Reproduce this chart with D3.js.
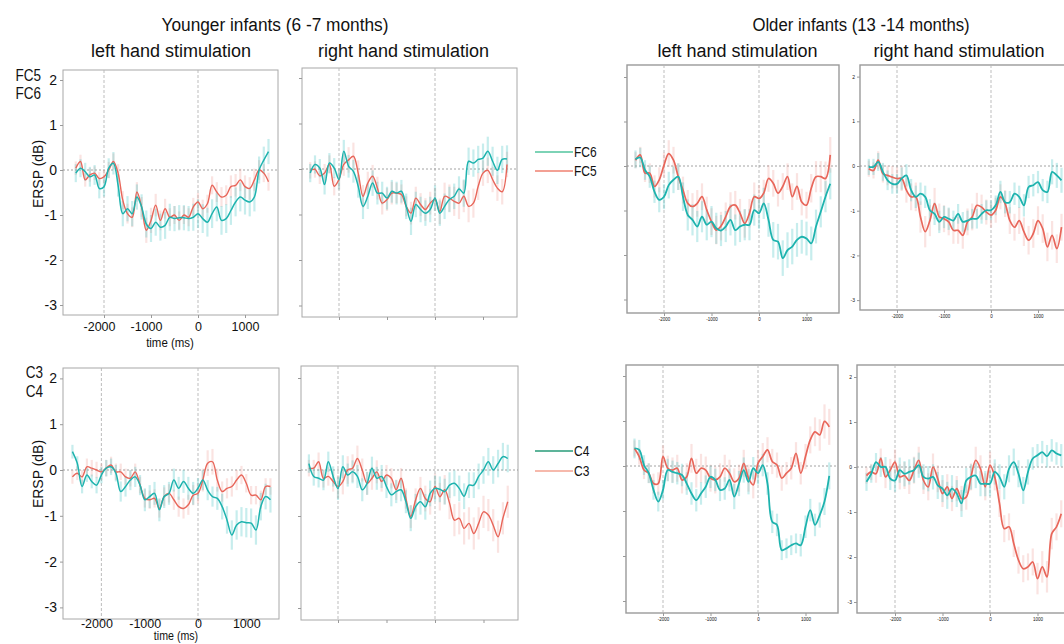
<!DOCTYPE html>
<html><head><meta charset="utf-8">
<script src="https://cdn.jsdelivr.net/npm/d3@7"></script>
<style>
body{margin:0;background:#fff}
svg{display:block}
text{font-family:"Liberation Sans",Arial,Helvetica,sans-serif;fill:#111}
</style></head>
<body><svg id="c" width="1064" height="644"></svg>
<script>
// ---------- DATA ----------
const times = [-2600,-2500,-2400,-2300,-2200,-2100,-2000,-1900,-1800,-1700,
  -1600,-1500,-1400,-1300,-1200,-1100,-1000,-900,-800,-700,
  -600,-500,-400,-300,-200,-100,0,100,200,300,
  400,500,600,700,800,900,1000,1100,1200,1300,
  1400,1500];
const xTicks = [-2000,-1000,0,1000];
const yTicks = [2,1,0,-1,-2,-3];
const markerTimes = [-2000,0];
const groupTitles = ["Younger infants (6 -7 months)","Older infants (13 -14 months)"];
const condTitles = ["left hand stimulation","right hand stimulation"];
const rowChannels = [["FC5","FC6"],["C3","C4"]];
const legendTop = ["FC6","FC5"];
const legendBottom = ["C4","C3"];

// Younger, left hand, FC6 / FC5
const young_L_FC6 = [-0.07,0.04,-0.04,-0.15,-0.11,-0.41,-0.37,0.04,0.15,-0.34,
  -0.97,-0.86,-0.97,-0.6,-0.82,-1.2,-1.3,-1.16,-1.27,-1.23,
  -1.05,-1.08,-1.06,-1.06,-1.08,-1.05,-0.97,-1.08,-1.16,-0.97,
  -0.82,-1.12,-1.08,-0.9,-0.71,-0.6,-0.67,-0.71,-0.6,0,
  0.22,0.41];
const young_L_FC6_err = [20,20,20,22,22,22,22,22,25,25, 28,28,28,28,28,30,30,30,30,30, 30,28,28,28,28,30,32,32,32,32, 32,32,32,32,32,32,32,32,32,30, 30,28];
const young_L_FC5 = [0.04,0.19,-0.22,-0.11,-0.07,-0.19,-0.15,0,0.19,-0.07,
  -0.67,-0.97,-1.05,-0.49,-0.82,-1.34,-1.12,-0.78,-1.12,-0.86,
  -1.05,-1.0,-1.12,-1.0,-1.05,-0.82,-0.71,-0.86,-0.75,-0.34,
  -0.49,-0.6,-0.56,-0.37,-0.34,-0.22,-0.37,-0.41,-0.22,0,
  -0.07,-0.26];
const young_L_FC5_err = [15,15,15,15,15,15,15,18,18,20, 20,22,22,22,22,28,28,25,22,22, 20,20,20,20,20,20,20,20,20,20, 22,22,22,25,25,25,25,25,25,22, 20,20];

// Younger, right hand, FC6 / FC5
const young_R_FC6 = [-0.09,0.1,0.02,-0.34,0.13,0.02,-0.23,0.39,0.06,-0.05,
  -0.38,-0.82,-0.6,-0.31,-0.53,-0.53,-0.64,-0.49,-0.53,-0.49,
  -0.82,-1.15,-0.78,-0.89,-0.97,-0.89,-0.64,-0.97,-0.82,-0.67,
  -0.6,-0.44,-0.53,0.17,0.13,0.21,0.24,0.39,0.17,-0.03,
  0.21,0.22];
const young_R_FC6_err = [20,20,20,22,22,22,22,25,25,25, 25,28,28,28,25,25,25,25,25,25, 28,30,28,28,28,28,28,28,28,28, 28,28,30,30,30,30,32,32,32,30, 30,30];
const young_R_FC5 = [-0.03,-0.01,-0.15,-0.09,0.1,-0.38,-0.23,0.1,0.2,0.28,
  -0.09,-0.6,-0.31,-0.16,-0.42,-0.75,-0.67,-0.53,-0.53,-0.56,
  -0.82,-0.97,-0.64,-0.78,-0.89,-0.75,-0.67,-0.93,-0.6,-0.64,
  -0.71,-0.75,-0.6,-0.82,-0.75,-0.38,-0.09,-0.03,-0.23,-0.42,
  -0.5,0.1];
const young_R_FC5_err = [18,18,18,20,20,20,22,25,28,30, 28,25,25,25,25,25,25,25,22,22, 22,25,25,25,25,25,25,28,30,30, 32,35,35,35,32,30,28,28,28,28, 28,28];

// Older, left hand, FC6 / FC5
const old_L_FC6 = [0.15,0.19,-0.09,-0.24,-0.58,-0.76,-0.69,-0.43,-0.31,-0.24,
  -0.69,-1.1,-1.21,-1.36,-1.14,-1.32,-1.25,-1.4,-1.45,-1.36,
  -1.21,-1.44,-1.36,-1.32,-1.32,-0.99,-1.06,-0.84,-1.21,-1.66,
  -1.7,-2.07,-1.89,-1.81,-1.66,-1.59,-1.63,-1.74,-1.36,-1.03,
  -0.69,-0.4];
const old_L_FC6_err = [20,22,22,25,25,28,28,30,30,30, 32,35,35,35,35,35,35,35,35,35, 35,35,35,35,35,35,35,35,38,40, 40,40,40,40,38,38,38,38,38,35, 35,35];
const old_L_FC5 = [0.13,0.25,-0.16,-0.16,-0.46,-0.31,0.02,0.28,0.13,-0.24,
  -0.54,-0.84,-0.91,-0.84,-0.69,-0.99,-1.25,-1.44,-1.35,-1.14,
  -0.91,-0.88,-1.06,-1.29,-1.06,-0.69,-0.73,-0.61,-0.28,-0.39,
  -0.61,-0.46,-0.24,-0.69,-0.46,-0.81,-0.88,-0.5,-0.24,-0.24,
  -0.28,0.25];
const old_L_FC5_err = [18,18,20,22,25,28,28,30,30,30, 30,30,30,30,30,30,30,32,32,32, 32,32,32,32,32,32,30,30,30,30, 30,30,30,30,30,30,30,32,35,35, 38,40];

// Older, right hand, FC6 / FC5
const old_R_FC6 = [-0.02,-0.02,0.09,-0.13,-0.32,-0.4,-0.4,-0.28,-0.21,-0.54,
  -0.69,-0.62,-0.69,-0.99,-1.07,-1.25,-1.14,-1.18,-1.22,-1.07,
  -1.25,-1.22,-1.18,-1.18,-1.07,-0.99,-0.99,-0.88,-0.58,-0.81,
  -0.81,-0.62,-0.69,-0.88,-0.47,-0.43,-0.36,-0.54,-0.58,-0.13,
  -0.21,-0.32];
const old_R_FC6_err = [18,18,20,20,22,22,22,25,25,25, 25,25,25,25,25,25,25,25,22,22, 22,22,22,22,22,22,22,22,25,25, 25,25,25,25,25,25,25,25,25,28, 28,28];
const old_R_FC5 = [-0.06,-0.1,0.13,-0.17,-0.21,-0.25,-0.28,-0.28,-0.54,-0.69,
  -0.69,-1.14,-1.47,-1.22,-0.84,-1.14,-1.18,-1.25,-1.44,-1.44,
  -1.55,-1.25,-1.14,-0.88,-0.92,-1.03,-1.1,-0.99,-0.69,-0.84,
  -1.22,-1.37,-1.22,-1.47,-1.66,-1.51,-1.22,-1.4,-1.81,-1.55,
  -1.85,-1.37];
const old_R_FC5_err = [18,18,20,20,22,25,25,28,28,30, 32,35,35,35,35,30,30,30,30,30, 30,30,30,28,28,28,28,28,28,30, 30,30,30,32,32,32,32,32,32,32, 32,30];

// Younger, left hand, C4 / C3
const young_L_C4 = [0.4,0.15,-0.36,-0.11,-0.25,-0.33,-0.11,0.04,0.07,-0.07,
  -0.47,-0.36,-0.22,-0.15,-0.33,-0.65,-0.58,-0.51,-0.87,-0.58,
  -0.51,-0.22,-0.4,-0.25,-0.4,-0.51,-0.4,-0.22,-0.44,-0.58,
  -0.62,-0.8,-1.09,-1.42,-1.2,-1.13,-1.15,-1.16,-1.31,-0.8,
  -0.58,-0.65];
const young_L_C4_err = [15,15,15,15,15,18,18,18,18,18, 22,22,22,22,22,25,25,25,25,25, 25,25,25,25,25,25,22,22,22,22, 25,28,30,32,32,32,32,32,32,30, 28,28];
const young_L_C3 = [-0.15,-0.07,-0.15,0.07,0.04,0,-0.04,0.04,0.11,-0.04,
  -0.04,-0.15,-0.18,-0.04,-0.33,-0.62,-0.65,-0.62,-0.84,-0.58,
  -0.51,-0.65,-0.8,-0.84,-0.76,-0.55,-0.51,-0.22,0.15,0.18,
  -0.22,-0.47,-0.4,-0.36,-0.22,-0.11,-0.29,-0.55,-0.55,-0.65,
  -0.36,-0.36];
const young_L_C3_err = [15,15,15,18,18,18,18,18,18,18, 18,18,18,18,18,20,20,20,20,20, 20,22,22,22,22,22,22,25,28,28, 25,22,22,22,22,20,20,20,20,20, 18,18];

// Younger, right hand, C4 / C3
const young_R_C4 = [0.14,-0.14,-0.18,-0.22,0.18,-0.14,-0.4,0.07,-0.11,-0.04,
  -0.14,-0.43,-0.29,0.04,-0.18,-0.14,-0.36,-0.54,-0.47,-0.43,
  -0.69,-1.05,-0.8,-0.69,-0.8,-0.51,-0.4,-0.42,-0.47,-0.33,
  -0.29,-0.4,-0.57,-0.33,-0.33,-0.14,0,0.18,0,0.14,
  0.29,0.25];
const young_R_C4_err = [20,20,20,22,22,22,25,25,25,25, 25,25,25,25,25,25,25,25,25,25, 25,28,28,28,28,28,28,28,28,28, 28,28,28,28,28,28,30,30,30,30, 30,30];
const young_R_C3 = [0.04,0.04,0.18,-0.18,-0.14,-0.25,-0.36,-0.25,0,0.04,
  0.25,0,-0.29,-0.18,-0.04,-0.25,-0.11,-0.18,-0.43,-0.18,
  -0.62,-1.01,-0.65,-0.4,-0.62,-0.69,-0.36,-0.58,-0.43,-0.72,
  -1.09,-1.05,-1.27,-1.16,-1.38,-1.16,-0.91,-0.98,-1.2,-1.45,
  -1.05,-0.69];
const young_R_C3_err = [18,18,20,20,20,22,25,28,30,30, 28,25,25,25,25,22,22,22,22,22, 22,25,25,25,28,28,28,30,32,35, 35,35,35,35,35,35,35,35,35,35, 35,35];

// Older, left hand, C4 / C3
const old_L_C4 = [0.39,0.36,0.02,-0.16,-0.53,-0.79,-0.53,-0.09,-0.13,-0.16,
  -0.2,-0.39,-0.61,-0.76,-0.61,-0.46,-0.24,-0.31,-0.53,-0.5,
  -0.31,-0.68,-0.39,-0.09,-0.35,-0.05,-0.16,0.02,-0.39,-1.24,
  -1.31,-1.87,-1.83,-1.76,-1.72,-1.76,-1.35,-0.98,-1.31,-1.09,
  -0.79,-0.22];
const old_L_C4_err = [22,22,22,22,22,22,22,25,25,25, 25,25,25,25,25,25,25,25,25,25, 25,28,28,28,28,25,25,25,25,25, 25,22,22,22,22,25,25,25,25,28, 30,30];
const old_L_C3 = [0.39,0.21,-0.09,-0.16,-0.39,-0.39,0.21,-0.05,-0.09,-0.05,
  -0.31,-0.24,0.17,-0.16,-0.05,-0.09,-0.27,-0.31,-0.24,-0.05,
  -0.16,-0.35,-0.27,0.06,-0.27,-0.42,0.06,0.21,0.36,0.1,
  0.02,-0.27,-0.16,-0.05,0.28,-0.16,0.21,0.58,0.76,0.69,
  0.99,0.87];
const old_L_C3_err = [18,18,20,22,22,25,25,28,28,30, 30,30,32,32,32,30,30,30,30,30, 30,30,30,30,30,30,30,30,28,28, 28,28,25,25,25,25,28,30,32,35, 38,40];

// Older, right hand, C4 / C3
const old_R_C4 = [-0.33,-0.15,0.11,0,0,-0.26,-0.3,-0.07,-0.15,-0.11,
  -0.07,0.04,-0.22,-0.26,-0.22,-0.41,-0.48,-0.63,-0.48,-0.59,
  -0.81,-0.3,-0.22,-0.19,-0.37,-0.37,-0.37,-0.11,-0.22,-0.44,
  -0.04,0.11,-0.15,-0.52,-0.11,0.19,0.26,0.33,0.24,0.37,
  0.3,0.26];
const old_R_C4_err = [20,20,20,22,22,25,25,28,28,28, 28,28,28,28,28,30,30,30,30,30, 30,28,28,28,28,28,28,28,28,28, 30,30,30,30,28,25,25,25,25,25, 25,25];
const old_R_C3 = [-0.19,-0.11,-0.15,0.19,-0.22,-0.07,0.11,-0.22,-0.19,-0.3,
  -0.07,0.15,-0.3,-0.44,0,-0.26,-0.59,-0.44,-0.7,-0.48,
  -0.7,-0.67,-0.22,0.15,-0.04,-0.44,0.04,-0.22,-0.81,-1.37,
  -1.33,-1.7,-2.07,-2.26,-2.22,-2.11,-2.48,-2.22,-2.44,-1.48,
  -1.33,-1.04];
const old_R_C3_err = [18,18,20,22,25,25,28,28,30,30, 30,30,30,30,30,30,30,28,28,28, 28,28,30,30,30,30,30,30,30,30, 30,30,30,30,30,30,35,35,35,35, 30,30];

// ---------- LAYOUT ----------
const TEAL = "#1db3ae", SALMON = "#e8665a";
const TEAL_ERR = "rgba(70,195,195,0.30)", SALMON_ERR = "rgba(236,140,128,0.24)";

const panels = [
  {a:young_L_FC6, ae:young_L_FC6_err, b:young_L_FC5, be:young_L_FC5_err, left:63, right:278, top:70, bottom:315, x0:198, k:0.047, y0:170, u:45, old:false, labels:true, lblBase:331},
  {a:young_R_FC6, ae:young_R_FC6_err, b:young_R_FC5, be:young_R_FC5_err, left:302, right:517, top:68, bottom:317, x0:435, k:0.048, y0:169, u:45.5, old:false},
  {a:old_L_FC6, ae:old_L_FC6_err, b:old_L_FC5, be:old_L_FC5_err, left:627, right:839, top:65, bottom:313, x0:759, k:0.0475, y0:166, u:44.5, old:true, tiny:false},
  {a:old_R_FC6, ae:old_R_FC6_err, b:old_R_FC5, be:old_R_FC5_err, left:860, right:1080, top:65, bottom:310, x0:991, k:0.047, y0:166, u:44.7, old:true, tiny:true},
  {a:young_L_C4, ae:young_L_C4_err, b:young_L_C3, be:young_L_C3_err, left:63, right:279, top:368, bottom:619, x0:198, k:0.0483, y0:470, u:45.8, old:false, labels:true, lblBase:628},
  {a:young_R_C4, ae:young_R_C4_err, b:young_R_C3, be:young_R_C3_err, left:301, right:518, top:366, bottom:620, x0:435, k:0.0485, y0:470, u:46, old:false},
  {a:old_L_C4, ae:old_L_C4_err, b:old_L_C3, be:old_L_C3_err, left:626, right:838, top:365, bottom:613, x0:758, k:0.0475, y0:466, u:45, old:true, tiny:false},
  {a:old_R_C4, ae:old_R_C4_err, b:old_R_C3, be:old_R_C3_err, left:857, right:1080, top:365, bottom:613, x0:990, k:0.0475, y0:467, u:45, old:true, tiny:true}
];

const svg = d3.select("#c");
const FONT = "Liberation Sans, Arial, sans-serif";
const hyphenFmt = d => String(d);   // plain hyphen-minus like the reference

function sText(g, str, x, y, size, sx, anchor){
  return g.append("text").attr("transform", `translate(${x},${y}) scale(${sx},1)`)
    .attr("font-size", size).attr("text-anchor", anchor||"start").text(str);
}

panels.forEach((p) => {
  const g = svg.append("g");
  const x = d3.scaleLinear().domain([(p.left - p.x0)/p.k, (p.right - p.x0)/p.k]).range([p.left, p.right]);
  const y = d3.scaleLinear().domain([-(p.bottom - p.y0)/p.u, (p.y0 - p.top)/p.u]).range([p.bottom, p.top]);

  // frame
  g.append("rect").attr("x", p.left).attr("y", p.top).attr("width", p.right - p.left).attr("height", p.bottom - p.top)
    .attr("fill", "none").attr("stroke", p.old ? "#9a9a9a" : "#a8a8a8").attr("stroke-width", p.old ? 1.4 : 1);

  // markers
  g.selectAll("line.vm").data(markerTimes).join("line").attr("class","vm")
    .attr("x1", d => x(d)).attr("x2", d => x(d)).attr("y1", p.top).attr("y2", p.bottom)
    .attr("stroke", "#b5b5b5").attr("stroke-width", 0.9).attr("stroke-dasharray", "3,2");
  g.append("line").attr("x1", p.left).attr("x2", p.right).attr("y1", y(0)).attr("y2", y(0))
    .attr("stroke", "#8a8a8a").attr("stroke-width", 0.8).attr("stroke-dasharray", "2,2");

  // axes
  const ya = g.append("g").attr("transform", `translate(${p.left},0)`)
    .call(d3.axisLeft(y).tickValues(yTicks).tickSize(3).tickPadding(p.labels ? 3 : 2)
      .tickFormat(p.labels || p.tiny ? hyphenFmt : ""));
  ya.select(".domain").remove();
  ya.selectAll(".tick line").attr("stroke", "#999");
  if (p.labels) ya.selectAll(".tick text").attr("font-size", 14).attr("fill", "#111").attr("font-family", FONT);
  else if (p.tiny) ya.selectAll(".tick text").attr("font-size", 5).attr("fill", "#888").attr("font-family", FONT);

  const xa = g.append("g").attr("transform", `translate(0,${p.bottom})`)
    .call(d3.axisBottom(x).tickValues(xTicks).tickSize(3).tickPadding(2)
      .tickFormat(p.labels || p.old ? hyphenFmt : ""));
  xa.select(".domain").remove();
  xa.selectAll(".tick line").attr("stroke", "#999");
  if (p.labels) {
    xa.selectAll(".tick text").attr("font-size", 12.5).attr("fill", "#111").attr("font-family", FONT)
      .attr("y", p.lblBase - p.bottom).attr("dy", 0).attr("dx", d => d < 0 ? -5 : 0);
  } else if (p.old) {
    xa.selectAll(".tick text").attr("font-size", 4.5).attr("fill", "#bbb").attr("font-family", FONT);
  }

  const idx = d3.range(times.length);
  function errBars(vals, errs, color){
    g.append("g").selectAll("line").data(idx).join("line")
      .attr("x1", i => x(times[i])).attr("x2", i => x(times[i]))
      .attr("y1", i => y(vals[i] - errs[i]/100)).attr("y2", i => y(vals[i] + errs[i]/100))
      .attr("stroke", color).attr("stroke-width", 2.2);
  }
  errBars(p.b, p.be, SALMON_ERR);
  errBars(p.a, p.ae, TEAL_ERR);
  const line = (vals) => d3.line().x(i => x(times[i])).y(i => y(vals[i])).curve(d3.curveCatmullRom.alpha(0.5))(idx);
  g.append("path").attr("d", line(p.b)).attr("fill", "none").attr("stroke", SALMON).attr("stroke-width", p.old ? 1.7 : 1.4);
  g.append("path").attr("d", line(p.a)).attr("fill", "none").attr("stroke", TEAL).attr("stroke-width", p.old ? 1.8 : 1.5);

  if (p.labels) {
    g.append("text").attr("transform", `translate(43,${p.y0 + 4}) rotate(-90)`).attr("text-anchor", "middle")
      .attr("font-size", 14).text("ERSP (dB)");
  }
});

// titles
sText(svg, groupTitles[0], 275, 31, 19, 0.91, "middle");
sText(svg, groupTitles[1], 861, 31, 19, 0.88, "middle");
[[171, condTitles[0]], [403.5, condTitles[1]], [737.5, condTitles[0]], [959, condTitles[1]]].forEach(([cx, s]) => {
  sText(svg, s, cx, 57, 18, 1, "middle");
});

// channel labels
sText(svg, rowChannels[0][0], 41, 81, 16.5, 0.82, "end");
sText(svg, rowChannels[0][1], 41, 99, 16.5, 0.82, "end");
sText(svg, rowChannels[1][0], 43, 378, 16.5, 0.82, "end");
sText(svg, rowChannels[1][1], 43, 397, 16.5, 0.82, "end");

// time labels
sText(svg, "time (ms)", 170, 347, 13.5, 0.85, "middle");
sText(svg, "time (ms)", 176, 640, 12.5, 0.85, "middle");

// legends
const legColorsTop = ["#52c49e", "#ef8070"];
const legColorsBottom = ["#279b78", "#f3a291"];
legendTop.forEach((s, i) => {
  const yy = 152 + i * 19;
  svg.append("line").attr("x1", 535).attr("x2", 573).attr("y1", yy).attr("y2", yy).attr("stroke", legColorsTop[i]).attr("stroke-width", 1.6);
  sText(svg, s, 574, yy + 5, 15, 0.8, "start");
});
legendBottom.forEach((s, i) => {
  const yy = 451 + i * 20;
  svg.append("line").attr("x1", 535).attr("x2", 573).attr("y1", yy).attr("y2", yy).attr("stroke", legColorsBottom[i]).attr("stroke-width", 1.6);
  sText(svg, s, 574, yy + 5, 15, 0.8, "start");
});
</script></body></html>
